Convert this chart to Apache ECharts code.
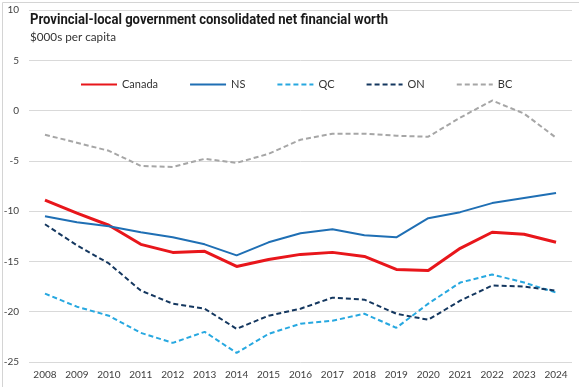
<!DOCTYPE html>
<html>
<head>
<meta charset="utf-8">
<script src="https://cdn.jsdelivr.net/npm/echarts@6/dist/echarts.min.js"></script>
<style>
html,body{margin:0;padding:0;background:#fff;}
#chart{width:579px;height:387px;}
</style>
</head>
<body>
<div id="chart"></div>
<script>
const years = ['2008','2009','2010','2011','2012','2013','2014','2015','2016','2017','2018','2019','2020','2021','2022','2023','2024'];
const canada = [-8.9,-10.2,-11.4,-13.3,-14.1,-14.0,-15.5,-14.8,-14.3,-14.1,-14.5,-15.8,-15.9,-13.7,-12.1,-12.3,-13.1];
const ns = [-10.5,-11.1,-11.5,-12.1,-12.6,-13.3,-14.4,-13.1,-12.2,-11.8,-12.4,-12.6,-10.7,-10.1,-9.2,-8.7,-8.2];
const qc = [-18.2,-19.5,-20.4,-22.1,-23.1,-22.0,-24.1,-22.2,-21.2,-20.9,-20.2,-21.6,-19.2,-17.1,-16.3,-17.1,-18.1];
const on = [-11.3,-13.4,-15.2,-17.9,-19.2,-19.7,-21.7,-20.4,-19.7,-18.6,-18.8,-20.2,-20.8,-18.9,-17.4,-17.5,-17.9];
const bc = [-2.4,-3.2,-4.0,-5.5,-5.6,-4.8,-5.2,-4.3,-2.9,-2.3,-2.3,-2.5,-2.6,-0.7,1.0,-0.3,-2.7];
const titleText = 'Provincial-local government consolidated net financial worth';
const subText = '$000s per capita';

const chart = echarts.init(document.getElementById('chart'), null, {renderer:'canvas'});
const labelFont = "Lato, 'Liberation Sans', sans-serif";
const titleFont = "bold 15px Roboto, sans-serif";
const cv = document.createElement('canvas').getContext('2d');
cv.font = titleFont;
const titleScale = 358 / cv.measureText(titleText).width;
cv.font = "12px Lato, sans-serif";
const subScale = 86 / cv.measureText(subText).width;

function mk(name, data, color, width, type) {
  return {
    name: name, type: 'line', data: data, symbol: 'none', smooth: false,
    lineStyle: {color: color, width: width, type: type},
    itemStyle: {color: color}
  };
}
chart.setOption({
  animation: false,
  backgroundColor: '#fff',
  graphic: [{
    type: 'rect', left: 0, top: 0, silent: true, z: -1,
    shape: {x: 0.5, y: 0.5, width: 577, height: 385},
    style: {fill: 'none', stroke: '#d4d4d4', lineWidth: 1}
  }, {
    type: 'text', x: 30, y: 13, scaleX: titleScale, z: 10,
    style: {text: titleText, font: titleFont, fill: '#1a1a1a', textVerticalAlign: 'top'}
  }, {
    type: 'text', x: 30, y: 31, scaleX: subScale, z: 10,
    style: {text: subText, font: "12px Lato, sans-serif", fill: '#333', textVerticalAlign: 'top'}
  }],
  legend: {
    left: 75, top: 74, itemWidth: 36, itemHeight: 10, itemGap: 31,
    itemStyle: {opacity: 0},
    textStyle: {fontFamily: labelFont, fontSize: 11, color: '#333'},
    data: ['Canada','NS','QC','ON','BC']
  },
  grid: {left: 29, right: 7, top: 10, bottom: 25, containLabel: false},
  xAxis: {
    type: 'category', data: years, boundaryGap: true,
    axisLine: {show: false}, axisTick: {show: false},
    axisLabel: {fontFamily: labelFont, fontSize: 10, color: '#404040', margin: 8, interval: 0}
  },
  yAxis: {
    type: 'value', min: -25, max: 10, interval: 5,
    axisLine: {show: false}, axisTick: {show: false},
    splitLine: {lineStyle: {color: '#d9d9d9', width: 1}},
    axisLabel: {fontFamily: labelFont, fontSize: 10, color: '#404040', margin: 10}
  },
  series: [
    mk('Canada', canada, '#e8161b', 3, 'solid'),
    mk('NS', ns, '#1f6fb4', 2, 'solid'),
    mk('QC', qc, '#27a8e0', 2, [5,3]),
    mk('ON', on, '#14375f', 2, [5,3]),
    mk('BC', bc, '#a6a6a6', 2, [5,3])
  ]
});
</script>
</body>
</html>
